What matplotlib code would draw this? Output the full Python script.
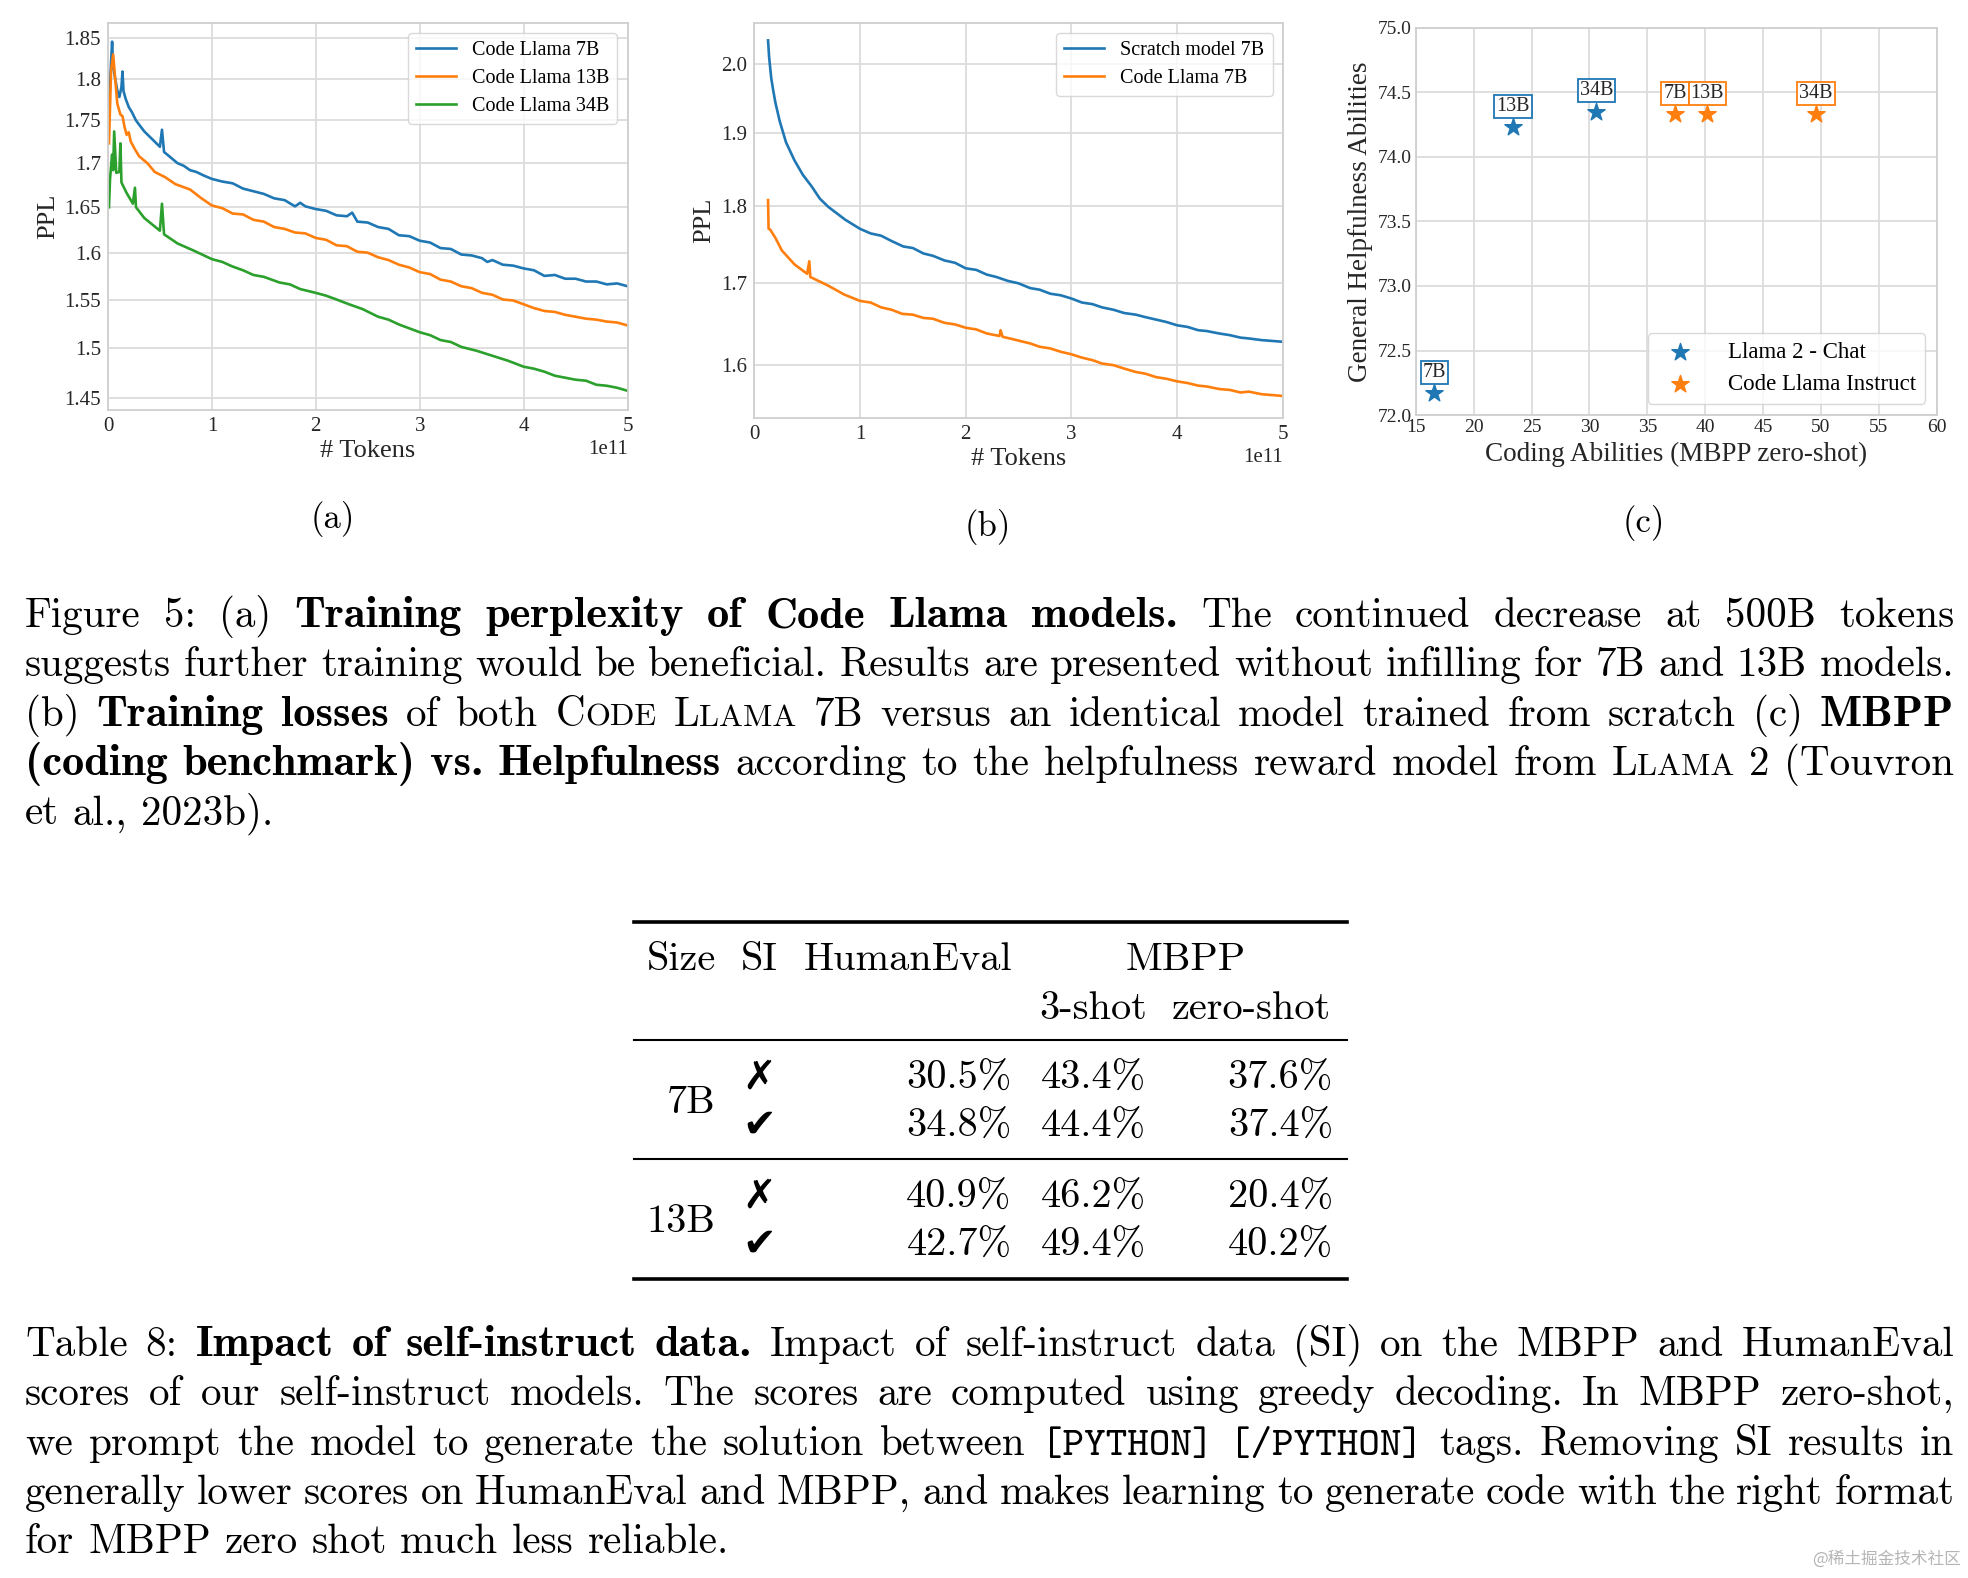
import matplotlib
matplotlib.use('Agg')
import matplotlib.pyplot as plt
from matplotlib.font_manager import FontProperties
from matplotlib.lines import Line2D
from matplotlib.ticker import NullLocator, NullFormatter

# ---------------- data ----------------
# (a) training perplexity, x in units of 1e11 tokens
a7_x = [0.01, 0.03, 0.04, 0.05, 0.07, 0.09, 0.11, 0.13, 0.14, 0.15, 0.17, 0.20, 0.23, 0.27, 0.30, 0.35,
        0.40, 0.45, 0.50, 0.52, 0.54, 0.60, 0.67, 0.73, 0.79, 0.85, 0.92, 1.00, 1.10, 1.20, 1.30, 1.40,
        1.50, 1.60, 1.70, 1.80, 1.85, 1.90, 2.00, 2.10, 2.20, 2.30, 2.35, 2.40, 2.50, 2.60, 2.70, 2.80,
        2.90, 3.00, 3.10, 3.20, 3.30, 3.40, 3.50, 3.60, 3.65, 3.70, 3.80, 3.90, 4.00, 4.10, 4.20, 4.30,
        4.40, 4.50, 4.60, 4.70, 4.80, 4.90, 5.00]
a7_y = [1.765, 1.820, 1.846, 1.815, 1.800, 1.786, 1.778, 1.790, 1.809, 1.785, 1.776, 1.766, 1.760, 1.750,
        1.745, 1.737, 1.731, 1.725, 1.719, 1.739, 1.713, 1.707, 1.700, 1.697, 1.692, 1.690, 1.686, 1.682,
        1.679, 1.677, 1.671, 1.668, 1.665, 1.660, 1.658, 1.651, 1.655, 1.651, 1.648, 1.646, 1.641, 1.640,
        1.644, 1.634, 1.633, 1.628, 1.626, 1.619, 1.618, 1.613, 1.611, 1.605, 1.604, 1.598, 1.597, 1.594,
        1.590, 1.592, 1.587, 1.586, 1.583, 1.581, 1.575, 1.576, 1.572, 1.572, 1.569, 1.569, 1.566, 1.567,
        1.564]

a13_x = [0.01, 0.02, 0.03, 0.05, 0.07, 0.09, 0.12, 0.14, 0.16, 0.18, 0.20, 0.22, 0.26, 0.30, 0.38, 0.45,
         0.55, 0.65, 0.79, 0.90, 1.00, 1.10, 1.20, 1.30, 1.40, 1.50, 1.60, 1.70, 1.80, 1.90, 2.00, 2.10,
         2.20, 2.30, 2.40, 2.50, 2.60, 2.70, 2.80, 2.90, 3.00, 3.10, 3.20, 3.30, 3.40, 3.50, 3.60, 3.70,
         3.80, 3.90, 4.00, 4.10, 4.20, 4.30, 4.40, 4.50, 4.60, 4.70, 4.80, 4.90, 5.00]
a13_y = [1.723, 1.765, 1.810, 1.830, 1.800, 1.770, 1.757, 1.755, 1.742, 1.733, 1.736, 1.725, 1.716, 1.708,
         1.700, 1.690, 1.684, 1.676, 1.670, 1.660, 1.652, 1.649, 1.643, 1.642, 1.636, 1.634, 1.628, 1.626,
         1.622, 1.621, 1.616, 1.614, 1.608, 1.607, 1.601, 1.600, 1.595, 1.592, 1.587, 1.584, 1.579, 1.577,
         1.571, 1.569, 1.564, 1.562, 1.557, 1.555, 1.550, 1.549, 1.545, 1.541, 1.538, 1.537, 1.534, 1.532,
         1.530, 1.529, 1.527, 1.526, 1.523]

a34_x = [0.01, 0.02, 0.04, 0.05, 0.06, 0.08, 0.11, 0.12, 0.13, 0.18, 0.24, 0.26, 0.27, 0.35, 0.50, 0.52,
         0.54, 0.67, 0.83, 1.00, 1.10, 1.20, 1.30, 1.40, 1.50, 1.65, 1.75, 1.85, 2.00, 2.10, 2.20, 2.32,
         2.45, 2.60, 2.70, 2.80, 2.90, 3.00, 3.10, 3.20, 3.30, 3.40, 3.55, 3.70, 3.85, 4.00, 4.10, 4.20,
         4.30, 4.40, 4.50, 4.60, 4.70, 4.80, 4.90, 5.00]
a34_y = [1.650, 1.682, 1.710, 1.692, 1.737, 1.689, 1.690, 1.723, 1.678, 1.666, 1.654, 1.672, 1.650, 1.638,
         1.624, 1.654, 1.620, 1.610, 1.602, 1.593, 1.590, 1.585, 1.581, 1.576, 1.574, 1.568, 1.566, 1.561,
         1.557, 1.554, 1.550, 1.545, 1.540, 1.532, 1.529, 1.524, 1.520, 1.516, 1.513, 1.508, 1.506, 1.501,
         1.497, 1.492, 1.487, 1.481, 1.479, 1.476, 1.472, 1.470, 1.468, 1.467, 1.463, 1.462, 1.460, 1.457]

# (b) scratch vs code llama 7B
bs_x = [0.13, 0.14, 0.16, 0.18, 0.20, 0.22, 0.24, 0.30, 0.38, 0.46, 0.54, 0.62, 0.70, 0.86, 1.00, 1.10,
        1.20, 1.30, 1.41, 1.50, 1.60, 1.69, 1.80, 1.90, 2.00, 2.10, 2.20, 2.29, 2.40, 2.50, 2.61, 2.70,
        2.80, 2.90, 3.00, 3.10, 3.20, 3.29, 3.40, 3.50, 3.61, 3.70, 3.80, 3.90, 4.00, 4.10, 4.20, 4.28,
        4.40, 4.50, 4.60, 4.68, 4.80, 4.90, 5.00]
bs_y = [2.035, 2.010, 1.979, 1.960, 1.943, 1.930, 1.917, 1.887, 1.862, 1.842, 1.827, 1.810, 1.799, 1.782,
        1.770, 1.764, 1.761, 1.754, 1.747, 1.745, 1.738, 1.735, 1.729, 1.726, 1.719, 1.717, 1.711, 1.708,
        1.703, 1.700, 1.694, 1.692, 1.687, 1.685, 1.681, 1.676, 1.674, 1.670, 1.667, 1.663, 1.661, 1.658,
        1.655, 1.652, 1.648, 1.646, 1.642, 1.641, 1.638, 1.636, 1.633, 1.632, 1.630, 1.629, 1.628]
bc_x = [0.13, 0.135, 0.15, 0.20, 0.26, 0.38, 0.50, 0.52, 0.53, 0.70, 0.85, 1.00, 1.10, 1.20, 1.30, 1.40,
        1.50, 1.60, 1.69, 1.80, 1.90, 2.00, 2.10, 2.20, 2.32, 2.33, 2.35, 2.45, 2.61, 2.70, 2.80, 2.90,
        3.00, 3.10, 3.20, 3.29, 3.40, 3.50, 3.61, 3.70, 3.80, 3.90, 4.00, 4.10, 4.20, 4.28, 4.40, 4.50,
        4.60, 4.68, 4.80, 4.90, 5.00]
bc_y = [1.808, 1.770, 1.769, 1.758, 1.742, 1.724, 1.712, 1.728, 1.708, 1.697, 1.686, 1.678, 1.676, 1.670,
        1.667, 1.662, 1.661, 1.657, 1.656, 1.651, 1.649, 1.645, 1.643, 1.638, 1.635, 1.642, 1.634, 1.631,
        1.626, 1.622, 1.620, 1.616, 1.613, 1.609, 1.606, 1.602, 1.600, 1.596, 1.592, 1.590, 1.586, 1.584,
        1.581, 1.579, 1.576, 1.575, 1.572, 1.571, 1.568, 1.569, 1.566, 1.565, 1.564]

# (c) MBPP zero-shot vs helpfulness
sizes = ['7B', '13B', '34B']
chat_mbpp = [16.6, 23.4, 30.6]
chat_help = [72.17, 74.23, 74.35]
inst_mbpp = [37.4, 40.2, 49.6]
inst_help = [74.33, 74.33, 74.33]

# table 8
tab_sizes = ['7B', '13B']
tab_si = ['\u2717', '\u2714', '\u2717', '\u2714']
tab_he = ['30.5%', '34.8%', '40.9%', '42.7%']
tab_3shot = ['43.4%', '44.4%', '46.2%', '49.4%']
tab_0shot = ['37.6%', '37.4%', '20.4%', '40.2%']

fig5_lines = [
    [("Figure 5: (a) ", 'r'), ("Training perplexity of Code Llama models.", 'b'),
     (" The continued decrease at 500B tokens", 'r')],
    [("suggests further training would be beneficial. Results are presented without infilling for 7B and 13B models.", 'r')],
    [("(b) ", 'r'), ("Training losses", 'b'), (" of both ", 'r'), ("Code Llama", 'sc'),
     (" 7B versus an identical model trained from scratch (c) ", 'r'), ("MBPP", 'b')],
    [("(coding benchmark) vs. Helpfulness", 'b'),
     (" according to the helpfulness reward model from ", 'r'), ("Llama", 'sc'), (" 2 (Touvron", 'r')],
    [("et al., 2023b).", 'r')],
]
tab8_lines = [
    [("Table 8: ", 'r'), ("Impact of self-instruct data.", 'b'),
     (" Impact of self-instruct data (SI) on the MBPP and HumanEval", 'r')],
    [("scores of our self-instruct models. The scores are computed using greedy decoding. In MBPP zero-shot,", 'r')],
    [("we prompt the model to generate the solution between ", 'r'), ("[PYTHON] [/PYTHON]", 'tt'),
     (" tags. Removing SI results in", 'r')],
    [("generally lower scores on HumanEval and MBPP, and makes learning to generate code with the right format", 'r')],
    [("for MBPP zero shot much less reliable.", 'r')],
]

# ---------------- figure ----------------
W, H = 1968, 1578
DW, DH = 1568.0, 1258.0   # layout measured on a 1568 wide copy
fig = plt.figure(figsize=(W / 100, H / 100), dpi=100)

def fx(x):
    return x / DW

def fy(y):
    return 1 - y / DH

def axbox(l, r, t, b):
    return [fx(l), fy(b), fx(r) - fx(l), fy(t) - fy(b)]

serif = ['Liberation Serif', 'DejaVu Serif']
plt.rcParams['font.family'] = serif
gridc = '#dcdcdc'
tickc = '#262626'
blue, orange, green = '#1f77b4', '#ff7f0e', '#2ca02c'

def style_ax(ax, ts):
    ax.set_facecolor('white')
    ax.grid(True, color=gridc, lw=1.3)
    ax.set_axisbelow(True)
    for s in ax.spines.values():
        s.set_color('#cfcfcf')
        s.set_linewidth(1.3)
    ax.tick_params(length=0, labelsize=ts, colors=tickc, pad=5)
    ax.xaxis.get_offset_text().set_fontsize(ts)
    ax.xaxis.get_offset_text().set_color(tickc)

LW = 1.9

# (a)
ax1 = fig.add_axes(axbox(86, 500, 18, 327))
ax1.plot([v * 1e11 for v in a7_x], a7_y, color=blue, lw=LW, label='Code Llama 7B')
ax1.plot([v * 1e11 for v in a13_x], a13_y, color=orange, lw=LW, label='Code Llama 13B')
ax1.plot([v * 1e11 for v in a34_x], a34_y, color=green, lw=LW, label='Code Llama 34B')
ax1.set_yscale('log')
ax1.set_xlim(0, 5e11)
ax1.set_ylim(1.438, 1.870)
yt = [1.45, 1.5, 1.55, 1.6, 1.65, 1.7, 1.75, 1.8, 1.85]
ax1.set_yticks(yt)
ax1.set_yticklabels([str(v) for v in yt])
ax1.yaxis.set_minor_locator(NullLocator())
ax1.yaxis.set_minor_formatter(NullFormatter())
style_ax(ax1, 15)
ax1.set_xlabel('# Tokens', fontsize=19, color=tickc, labelpad=3)
ax1.set_ylabel('PPL', fontsize=19, color=tickc, labelpad=4)
ax1.legend(loc='upper right', fontsize=14.5, frameon=True, edgecolor='#d0d0d0', fancybox=True,
           labelspacing=0.45)

# (b)
ax2 = fig.add_axes(axbox(601, 1022, 18, 333))
ax2.plot([v * 1e11 for v in bs_x], bs_y, color=blue, lw=LW, label='Scratch model 7B')
ax2.plot([v * 1e11 for v in bc_x], bc_y, color=orange, lw=LW, label='Code Llama 7B')
ax2.set_yscale('log')
ax2.set_xlim(0, 5e11)
ax2.set_ylim(1.539, 2.062)
yt2 = [1.6, 1.7, 1.8, 1.9, 2.0]
ax2.set_yticks(yt2)
ax2.set_yticklabels(['%.1f' % v for v in yt2])
ax2.yaxis.set_minor_locator(NullLocator())
ax2.yaxis.set_minor_formatter(NullFormatter())
style_ax(ax2, 15)
ax2.set_xlabel('# Tokens', fontsize=19, color=tickc, labelpad=3)
ax2.set_ylabel('PPL', fontsize=19, color=tickc, labelpad=4)
ax2.legend(loc='upper right', fontsize=14.5, frameon=True, edgecolor='#d0d0d0', fancybox=True,
           labelspacing=0.45)

# (c)
ax3 = fig.add_axes(axbox(1128, 1543, 22, 331))
ax3.scatter(chat_mbpp, chat_help, marker='*', s=170, color=blue, label='Llama 2 - Chat', zorder=3)
ax3.scatter(inst_mbpp, inst_help, marker='*', s=170, color=orange, label='Code Llama Instruct', zorder=3)
for xs, ys, c in [(chat_mbpp, chat_help, blue), (inst_mbpp, inst_help, orange)]:
    for name, x, y in zip(sizes, xs, ys):
        ax3.annotate(name, (x, y), xytext=(0, 8), textcoords='offset points', ha='center', va='bottom',
                     fontsize=14.5, color=tickc,
                     bbox=dict(boxstyle='square,pad=0.1', fc='white', ec=c, lw=1.3))
ax3.set_xlim(15, 60)
ax3.set_ylim(72.0, 75.0)
ax3.set_xticks(range(15, 61, 5))
ax3.set_yticks([72.0, 72.5, 73.0, 73.5, 74.0, 74.5, 75.0])
ax3.set_yticklabels(['%.1f' % v for v in [72.0, 72.5, 73.0, 73.5, 74.0, 74.5, 75.0]])
style_ax(ax3, 14)
ax3.tick_params(pad=3)
ax3.set_xlabel('Coding Abilities (MBPP zero-shot)', fontsize=19.5, color=tickc, labelpad=4)
ax3.set_ylabel('General Helpfulness Abilities', fontsize=19.5, color=tickc, labelpad=3)
ax3.legend(loc='lower right', fontsize=16.5, frameon=True, edgecolor='#d0d0d0', fancybox=True,
           labelspacing=0.45, handletextpad=1.1)

# sub-figure labels
for lab, x, y in [('(a)', 265, 414), ('(b)', 787, 420), ('(c)', 1310, 417)]:
    fig.text(fx(x), fy(y), lab, family='cmr10', fontsize=25, ha='center', va='center')

# ---------------- justified captions ----------------
CS = 29.6
FP = {'r': FontProperties(family='cmr10', size=CS),
      'b': FontProperties(family='cmb10', size=CS * 1.08),
      'sc': FontProperties(family='cmr10', size=CS * 0.78),
      'tt': FontProperties(family='cmtt10', size=CS)}
renderer = fig.canvas.get_renderer()

def measure(s, fp):
    t = fig.text(0, 0, s, fontproperties=fp)
    w = t.get_window_extent(renderer=renderer).width
    t.remove()
    return w

def words_of(line):
    words = [[]]
    for txt, st in line:
        parts = txt.split(' ')
        for i, p in enumerate(parts):
            if i > 0:
                words.append([])
            if p:
                words[-1].append((p, st))
    return [w for w in words if w]

def runs_of(word):
    out = []
    for p, st in word:
        if st == 'sc':
            out.append((p[0], FP['r']))
            out.append((p[1:].upper(), FP['sc']))
        else:
            out.append((p, FP[st]))
    return out

def paragraph(lines, x0, x1, y0, dy):
    px0, px1 = x0 * W / DW, x1 * W / DW
    space = CS * 100 / 72 * 0.333
    for k, line in enumerate(lines):
        words = [runs_of(w) for w in words_of(line)]
        widths = [[measure(s, fp) for s, fp in w] for w in words]
        tot = [sum(w) for w in widths]
        if k == len(lines) - 1:
            gap = space
        else:
            gap = (px1 - px0 - sum(tot)) / (len(words) - 1)
        x = px0
        y = fy(y0 + k * dy)
        for w, ws, tw in zip(words, widths, tot):
            xx = x
            for (s, fp), sw in zip(w, ws):
                fig.text(xx / W, y, s, fontproperties=fp, ha='left', va='baseline')
                xx += sw
            x += tw + gap

paragraph(fig5_lines, 20, 1557, 500, 39.3)
paragraph(tab8_lines, 20, 1557, 1081, 39.3)

# ---------------- table 8 ----------------
tfs = 29.0
def ttext(x, y, s, ha='left', **kw):
    fig.text(fx(x), fy(y), s, family='cmr10', fontsize=tfs, ha=ha, va='baseline', **kw)

def rule(y, lw):
    fig.add_artist(Line2D([fx(505), fx(1073)], [fy(y), fy(y)], color='black', lw=lw))

rule(735, 2.6)
rule(829, 1.5)
rule(924, 1.5)
rule(1020, 2.6)
ttext(515, 773, 'Size')
ttext(590, 773, 'SI')
ttext(640, 773, 'HumanEval')
ttext(945, 773, 'MBPP', ha='center')
ttext(828, 812, '3-shot')
ttext(934, 812, 'zero-shot')
row_y = [868, 906, 963, 1001]
for i, y in enumerate(row_y):
    fig.text(fx(605), fy(y), tab_si[i], family='DejaVu Sans', fontsize=29,
             ha='center', va='baseline')
    ttext(806, y, tab_he[i], ha='right')
    ttext(913, y, tab_3shot[i], ha='right')
    ttext(1062, y, tab_0shot[i], ha='right')
ttext(570, 887, tab_sizes[0], ha='right')
ttext(570, 982, tab_sizes[1], ha='right')

# watermark
fig.text(fx(1562), fy(1243), '@稀土掘金技术社区', family=['Noto Sans CJK SC', 'DejaVu Sans'],
         fontsize=12, color='#b5b5b5', ha='right', va='center')

fig.savefig('out.png', dpi=100, facecolor='white')
